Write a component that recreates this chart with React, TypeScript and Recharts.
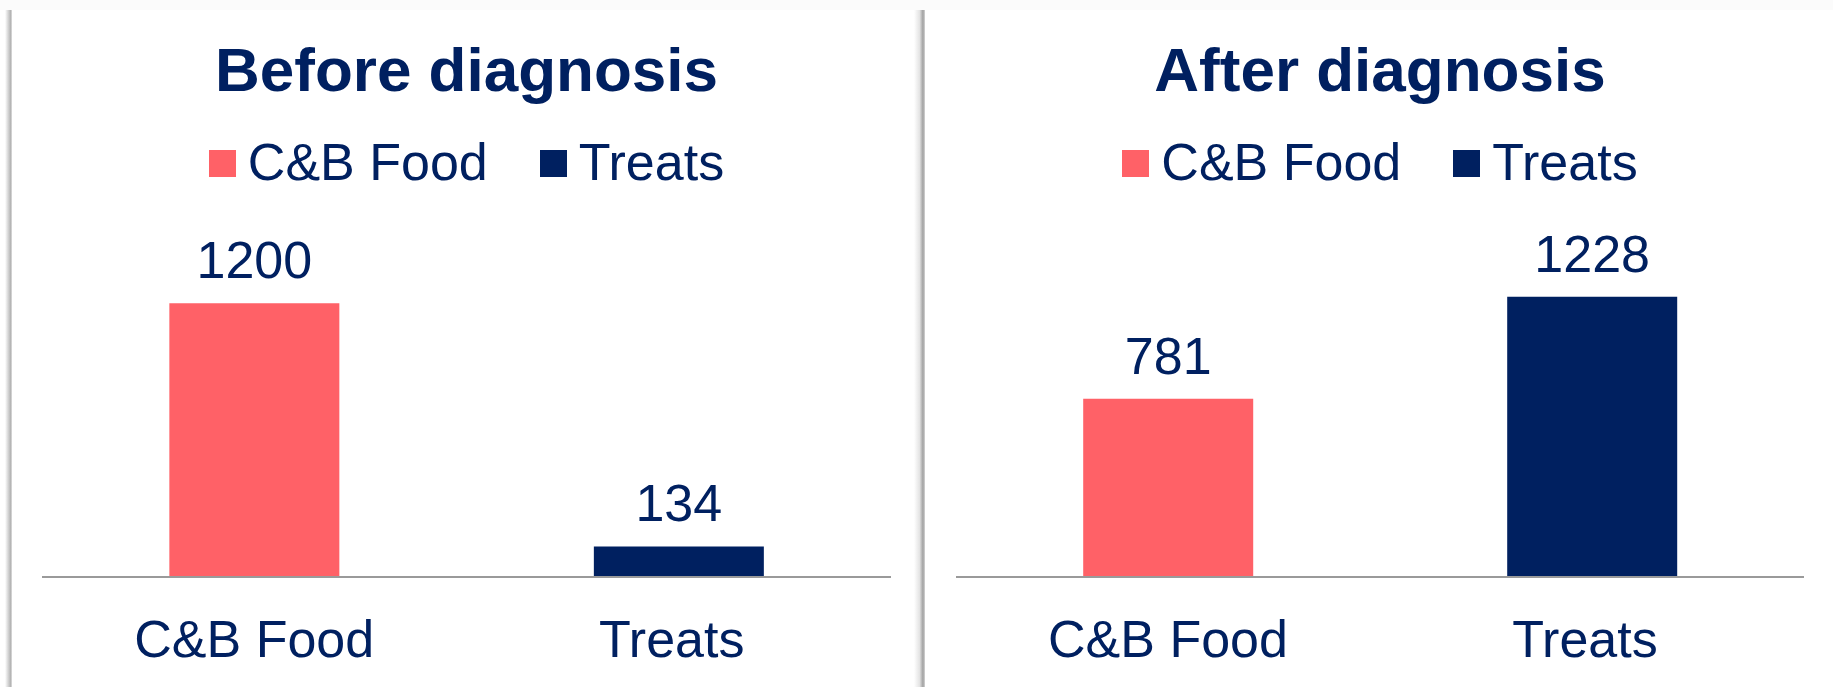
import React from "react";
import { BarChart, Bar, XAxis, YAxis, Cell, LabelList, Legend } from "recharts";

const categories = ["C&B Food", "Treats"];
const colors = ["#FF6167", "#002060"];
const beforeValues = [1200, 134];
const afterValues = [781, 1228];
const titles = ["Before diagnosis", "After diagnosis"];
const yDomain = [0, 1400];

const FONT = "'Liberation Sans', Arial, sans-serif";
const NAVY = "#002060";

const buildData = (vals: number[]) => categories.map((c, i) => ({ name: c, value: vals[i] }));

const LegendContent = () => (
  <div style={{ display: "flex", justifyContent: "center", alignItems: "flex-start", height: 40, fontFamily: FONT, fontSize: 52, lineHeight: "40px", color: NAVY }}>
    {categories.map((c, i) => (
      <div key={c} style={{ display: "flex", alignItems: "flex-start", marginLeft: i === 0 ? 0 : 52 }}>
        <div style={{ width: 27, height: 27, background: colors[i], marginTop: 8, marginRight: 12 }} />
        <span style={{ whiteSpace: "nowrap" }}>{c}</span>
      </div>
    ))}
  </div>
);

const CategoryTick = (props: any) => {
  const { x, y, payload } = props;
  const shift = payload.value === categories[1] ? -7 : 0;
  return (
    <text x={x + shift} y={y} dy="0.71em" textAnchor="middle" fill={NAVY} fontSize={52} fontFamily={FONT}>
      {payload.value}
    </text>
  );
};

type PanelProps = { left: number; width: number; mLeft: number; mRight: number; title: string; values: number[] };

const Panel = ({ left, width, mLeft, mRight, title, values }: PanelProps) => {
  const data = buildData(values);
  const plotW = width - mLeft - mRight;
  return (
    <div style={{ position: "absolute", left, top: 0, width, height: 687 }}>
      <div style={{ position: "absolute", left: mLeft, width: plotW, top: 38.5, textAlign: "center", fontFamily: FONT, fontWeight: 700, fontSize: 62, lineHeight: "62px", color: NAVY, whiteSpace: "nowrap" }}>
        {title}
      </div>
      <BarChart width={width} height={687} data={data} margin={{ top: 217.5, right: mRight, bottom: 50, left: mLeft }} barCategoryGap="30%">
        <Legend verticalAlign="top" content={<LegendContent />} wrapperStyle={{ top: 142, left: mLeft, width: plotW }} />
        <XAxis dataKey="name" height={60} tickLine={false} tickSize={0} tickMargin={43} axisLine={{ stroke: "#9a9a9a", strokeWidth: 2 }} tick={<CategoryTick />} interval={0} />
        <YAxis hide domain={yDomain} />
        <Bar dataKey="value" isAnimationActive={false}>
          {data.map((d, i) => (
            <Cell key={d.name} fill={colors[i]} />
          ))}
          <LabelList dataKey="value" position="top" offset={25} fill={NAVY} fontSize={52} fontFamily={FONT} />
        </Bar>
      </BarChart>
    </div>
  );
};

export default function App() {
  return (
    <div style={{ position: "absolute", left: 0, top: 0, width: 1833, height: 687, background: "#ffffff", overflow: "hidden" }}>
      <div style={{ position: "absolute", left: 0, top: 0, width: 1833, height: 10, background: "#fbfbfb" }} />
      <div style={{ position: "absolute", left: 5, top: 10, width: 7, height: 677, background: "linear-gradient(to right, rgba(255,255,255,0), #d0d0d0 50%, #b4b4b4 80%, #e0e0e0)" }} />
      <div style={{ position: "absolute", left: 914, top: 10, width: 11, height: 677, background: "linear-gradient(to right, rgba(255,255,255,0), #e4e4e4 50%, #a8a8a8 78%, #b0b0b0 90%, #dcdcdc)" }} />
      <Panel left={0} width={916} mLeft={42} mRight={25} title={titles[0]} values={beforeValues} />
      <Panel left={925} width={908} mLeft={31} mRight={29} title={titles[1]} values={afterValues} />
    </div>
  );
}
